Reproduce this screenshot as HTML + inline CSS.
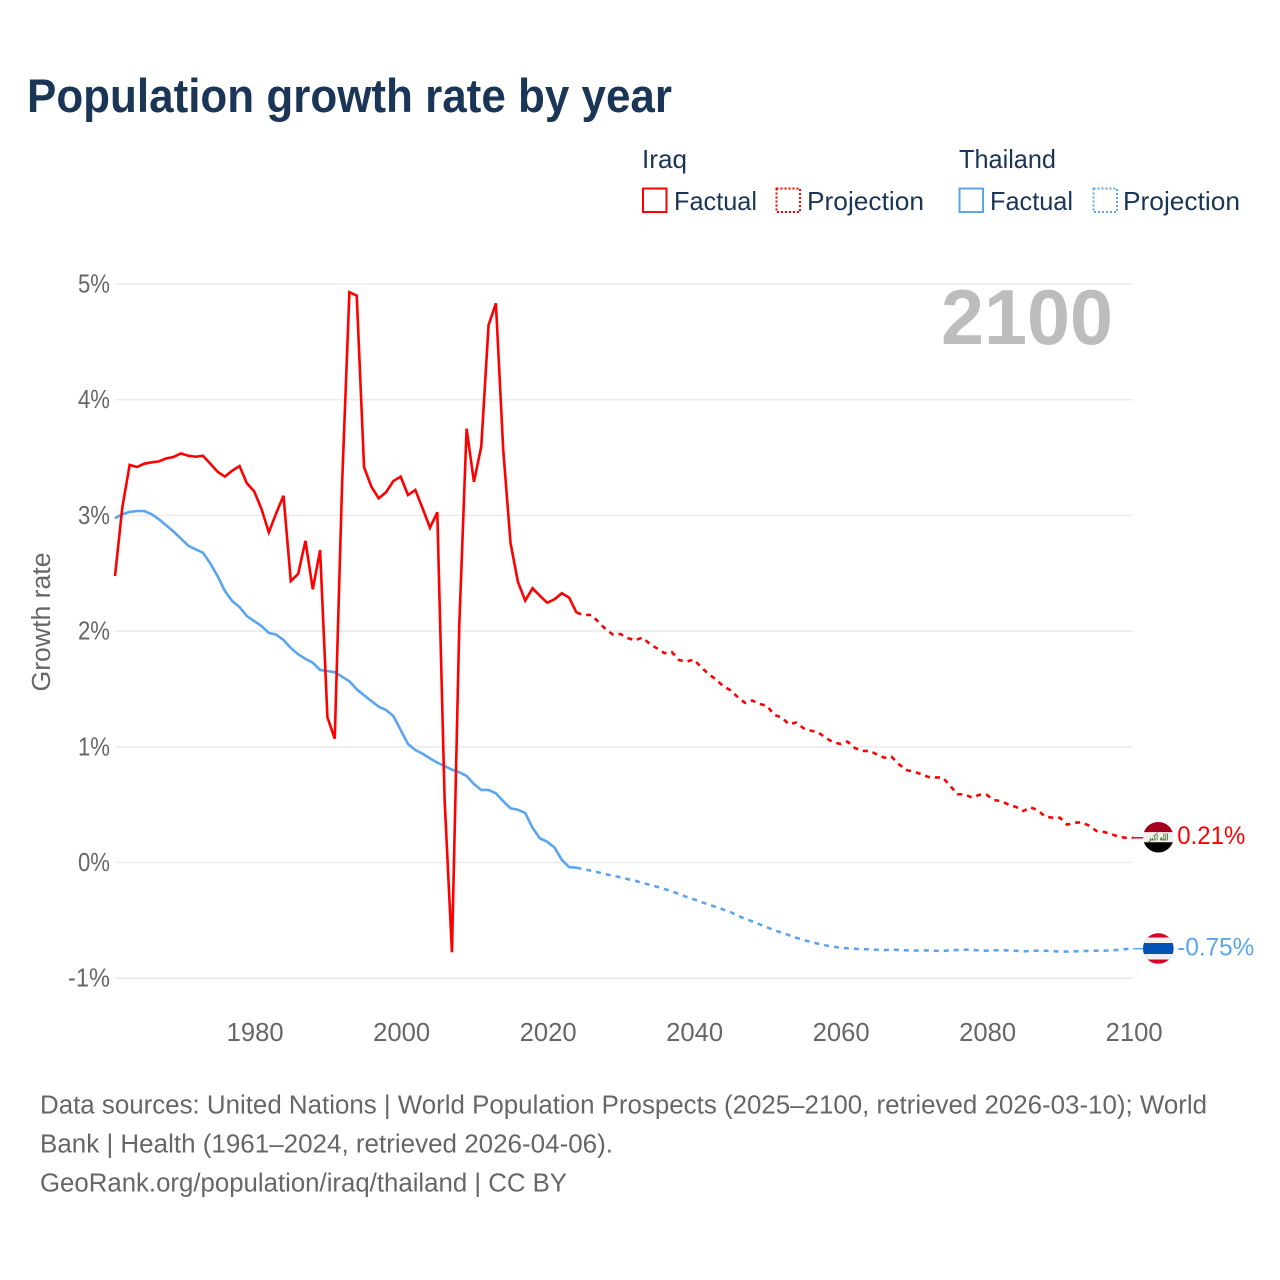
<!DOCTYPE html>
<html lang="en">
<head>
<meta charset="utf-8">
<title>Population growth rate by year</title>
<style>
  html, body { margin: 0; padding: 0; background: #fff; }
  svg { display: block; font-family: "Liberation Sans", "DejaVu Sans", sans-serif; }
</style>
</head>
<body>
<svg id="chart" width="1280" height="1280" viewBox="0 0 1280 1280" xmlns="http://www.w3.org/2000/svg">
  <rect width="1280" height="1280" fill="#ffffff"/>
  <text x="27" y="112" font-size="47" font-weight="700" fill="#1a3556" textLength="645" lengthAdjust="spacingAndGlyphs">Population growth rate by year</text>

  <g font-size="26" fill="#1a3556">
    <text x="642" y="168" textLength="45" lengthAdjust="spacingAndGlyphs">Iraq</text>
    <text x="959" y="168" textLength="97" lengthAdjust="spacingAndGlyphs">Thailand</text>
    <rect x="643" y="188.5" width="23.5" height="23.5" fill="none" stroke="#ff0000" stroke-width="2"/>
    <text x="674" y="210" textLength="83" lengthAdjust="spacingAndGlyphs">Factual</text>
    <rect x="776.5" y="188.5" width="23.5" height="23.5" fill="none" stroke="#ff0000" stroke-width="2" stroke-dasharray="2 2"/>
    <text x="807" y="210" textLength="117" lengthAdjust="spacingAndGlyphs">Projection</text>
    <rect x="959.5" y="188.5" width="23.5" height="23.5" fill="none" stroke="#5aa5ee" stroke-width="2"/>
    <text x="990" y="210" textLength="83" lengthAdjust="spacingAndGlyphs">Factual</text>
    <rect x="1093.5" y="188.5" width="23.5" height="23.5" fill="none" stroke="#5aa5ee" stroke-width="2" stroke-dasharray="2 2"/>
    <text x="1123" y="210" textLength="117" lengthAdjust="spacingAndGlyphs">Projection</text>
  </g>

  <g id="grid"></g>
  <g id="yticks"></g>
  <g id="xticks"></g>
  <text transform="translate(50 622) rotate(-90)" text-anchor="middle" font-size="25.5" fill="#666666" textLength="139" lengthAdjust="spacingAndGlyphs">Growth rate</text>
  <text x="941" y="344" font-size="78" font-weight="700" fill="#bdbdbd" textLength="172" lengthAdjust="spacingAndGlyphs">2100</text>
  <g id="series"></g>

  <defs>
    <clipPath id="iraq-clip"><circle cx="0" cy="0" r="15.3"/></clipPath>
    <clipPath id="thai-clip"><circle cx="0" cy="0" r="15.3"/></clipPath>
  </defs>
  <g id="iraq-end">
    <g clip-path="url(#iraq-clip)">
      <rect x="-16" y="-16" width="32" height="11" fill="#a2001d"/>
      <rect x="-16" y="-5" width="32" height="10" fill="#f0f0f0"/>
      <rect x="-16" y="5" width="32" height="11" fill="#000000"/>
      <text x="-10" y="3.5" font-size="9" font-weight="700" fill="#547c31" style="font-family:'DejaVu Sans',sans-serif" textLength="20" lengthAdjust="spacingAndGlyphs">الله أكبر</text>
    </g>
    <text id="iraq-value" x="19" y="7" font-size="25" fill="#ff0000" textLength="68" lengthAdjust="spacingAndGlyphs"></text>
  </g>
  <g id="thai-end">
    <g clip-path="url(#thai-clip)">
      <rect x="-16" y="-16" width="32" height="32" fill="#d80027"/>
      <rect x="-16" y="-11" width="32" height="22" fill="#f0f0f0"/>
      <rect x="-16" y="-5.5" width="32" height="11" fill="#0052b4"/>
    </g>
    <text id="thai-value" x="19" y="7" font-size="25" fill="#5aa5ee" textLength="77" lengthAdjust="spacingAndGlyphs"></text>
  </g>

  <g font-size="25.5" fill="#666666">
    <text x="40" y="1113.5" textLength="1167" lengthAdjust="spacingAndGlyphs">Data sources: United Nations | World Population Prospects (2025–2100, retrieved 2026-03-10); World</text>
    <text x="40" y="1152.5" textLength="573" lengthAdjust="spacingAndGlyphs">Bank | Health (1961–2024, retrieved 2026-04-06).</text>
    <text x="40" y="1191.5" textLength="527" lengthAdjust="spacingAndGlyphs">GeoRank.org/population/iraq/thailand | CC BY</text>
  </g>
</svg>

<script>
const firstFactualYear = 1961;
const firstProjectionYear = 2024;
const yTickValues = [-1, 0, 1, 2, 3, 4, 5];
const xTickYears = [1980, 2000, 2020, 2040, 2060, 2080, 2100];

const iraqFactual = [
  2.476, 3.07, 3.436, 3.418, 3.447, 3.459, 3.467, 3.493, 3.505, 3.536,
  3.516, 3.507, 3.516, 3.447, 3.378, 3.335, 3.387, 3.427, 3.278, 3.208,
  3.055, 2.854, 3.018, 3.17, 2.433, 2.494, 2.78, 2.361, 2.70, 1.255,
  1.07, 3.27, 4.93, 4.90, 3.416, 3.248, 3.148, 3.2, 3.297, 3.335,
  3.176, 3.22, 3.06, 2.894, 3.027, 0.54, -0.776, 2.05, 3.75, 3.29,
  3.594, 4.645, 4.833, 3.566, 2.76, 2.427, 2.263, 2.37, 2.306, 2.245,
  2.275, 2.327, 2.289, 2.16
];

const iraqProjection = [
  2.16, 2.14, 2.14, 2.08, 2.015, 1.97, 1.975, 1.94, 1.92, 1.945,
  1.89, 1.85, 1.81, 1.82, 1.75, 1.735, 1.755, 1.69, 1.63, 1.585,
  1.525, 1.49, 1.43, 1.38, 1.40, 1.37, 1.355, 1.275, 1.255, 1.195,
  1.21, 1.16, 1.14, 1.125, 1.08, 1.04, 1.025, 1.045, 0.99, 0.964,
  0.964, 0.935, 0.906, 0.915, 0.85, 0.80, 0.785, 0.765, 0.74, 0.735,
  0.735, 0.665, 0.59, 0.59, 0.56, 0.585, 0.585, 0.54, 0.53, 0.50,
  0.48, 0.445, 0.477, 0.45, 0.396, 0.387, 0.387, 0.327, 0.344, 0.347,
  0.318, 0.272, 0.264, 0.246, 0.223, 0.214, 0.214
];

const thailandFactual = [
  2.975, 3.01, 3.03, 3.038, 3.038, 3.01, 2.966, 2.914, 2.86, 2.80,
  2.738, 2.707, 2.678, 2.586, 2.476, 2.347, 2.26, 2.208, 2.13, 2.087,
  2.044, 1.984, 1.97, 1.923, 1.854, 1.80, 1.76, 1.727, 1.664, 1.655,
  1.644, 1.606, 1.566, 1.497, 1.445, 1.396, 1.347, 1.318, 1.266, 1.145,
  1.024, 0.972, 0.94, 0.90, 0.863, 0.834, 0.802, 0.78, 0.748, 0.678,
  0.627, 0.627, 0.598, 0.53, 0.468, 0.456, 0.428, 0.30, 0.209, 0.18,
  0.13, 0.022, -0.04, -0.045
];

const thailandProjection = [
  -0.045, -0.058, -0.071, -0.085, -0.101, -0.114, -0.128, -0.144, -0.158, -0.176,
  -0.193, -0.21, -0.229, -0.249, -0.272, -0.297, -0.318, -0.341, -0.363, -0.383,
  -0.405, -0.428, -0.46, -0.486, -0.509, -0.534, -0.56, -0.586, -0.606, -0.628,
  -0.65, -0.67, -0.687, -0.702, -0.716, -0.728, -0.736, -0.742, -0.746, -0.749,
  -0.751, -0.755, -0.758, -0.753, -0.756, -0.759, -0.762, -0.759, -0.76, -0.763,
  -0.765, -0.759, -0.756, -0.753, -0.756, -0.76, -0.762, -0.759, -0.758, -0.76,
  -0.763, -0.768, -0.765, -0.762, -0.762, -0.766, -0.769, -0.77, -0.768, -0.766,
  -0.763, -0.762, -0.762, -0.76, -0.755, -0.748, -0.745
];

const iraqEndLabel = "0.21%";
const thailandEndLabel = "-0.75%";

const SVG_NS = "http://www.w3.org/2000/svg";
function xScale(year) { return 115 + (year - 1961) * 7.325; }
function yScale(value) { return 862.5 - value * 115.7; }
function make(tag, attrs, parent) {
  const node = document.createElementNS(SVG_NS, tag);
  for (const key in attrs) node.setAttribute(key, attrs[key]);
  parent.appendChild(node);
  return node;
}
function linePath(values, startYear) {
  return values.map(function (v, i) {
    return (i ? "L" : "M") + xScale(startYear + i).toFixed(2) + " " + yScale(v).toFixed(2);
  }).join(" ");
}

const gridGroup = document.getElementById("grid");
const yTickGroup = document.getElementById("yticks");
const xTickGroup = document.getElementById("xticks");
const seriesGroup = document.getElementById("series");

yTickValues.forEach(function (value) {
  const y = yScale(value);
  const grid = make("line", { x1: 115, x2: 1133, y1: y, y2: y, stroke: "#ececec", "stroke-width": 1.6 }, gridGroup);
  
  
  const text = value + "%";
  const label = make("text", {
    x: 110, y: y + 8.5, "text-anchor": "end", "font-size": 25.5, fill: "#666666",
    textLength: 32 + (value < 0 ? 10 : 0), lengthAdjust: "spacingAndGlyphs"
  }, yTickGroup);
  
  
  label.textContent = text;
});

xTickYears.forEach(function (year) {
  const label = make("text", {
    x: xScale(year) + 1, y: 1041, "text-anchor": "middle", "font-size": 25.5, fill: "#666666",
    textLength: 57, lengthAdjust: "spacingAndGlyphs"
  }, xTickGroup);
  
  
  label.textContent = String(year);
});

const iraqColor = "#ff0000";
const thaiColor = "#5aa5ee";
const lineBase = { fill: "none", "stroke-width": 2.6, "stroke-linejoin": "miter", "stroke-miterlimit": 4 };

const thaiFactualLine = make("path", Object.assign({ d: linePath(thailandFactual, firstFactualYear), stroke: thaiColor }, lineBase), seriesGroup);



const thaiProjectionLine = make("path", Object.assign({ d: linePath(thailandProjection, firstProjectionYear), stroke: thaiColor, "stroke-dasharray": "5 5" }, lineBase), seriesGroup);



const iraqFactualLine = make("path", Object.assign({ d: linePath(iraqFactual, firstFactualYear), stroke: iraqColor }, lineBase), seriesGroup);



const iraqProjectionLine = make("path", Object.assign({ d: linePath(iraqProjection, firstProjectionYear), stroke: iraqColor, "stroke-dasharray": "5 5" }, lineBase), seriesGroup);



function lastOf(values) { return values[values.length - 1]; }
const endX = xScale(2100);
const iraqEndY = yScale(lastOf(iraqProjection));
const thaiEndY = yScale(lastOf(thailandProjection));

const iraqConnector = make("line", { x1: endX, x2: 1144, y1: iraqEndY, y2: iraqEndY, stroke: iraqColor, "stroke-width": 1.5 }, seriesGroup);



const thaiConnector = make("line", { x1: endX, x2: 1144, y1: thaiEndY, y2: thaiEndY, stroke: thaiColor, "stroke-width": 1.5 }, seriesGroup);



document.getElementById("iraq-end").setAttribute("transform", "translate(1158.3 " + (iraqEndY - 0.5) + ")");
document.getElementById("thai-end").setAttribute("transform", "translate(1158.3 " + (thaiEndY - 0.2) + ")");
document.getElementById("iraq-value").textContent = iraqEndLabel;
document.getElementById("thai-value").textContent = thailandEndLabel;
</script>
</body>
</html>
